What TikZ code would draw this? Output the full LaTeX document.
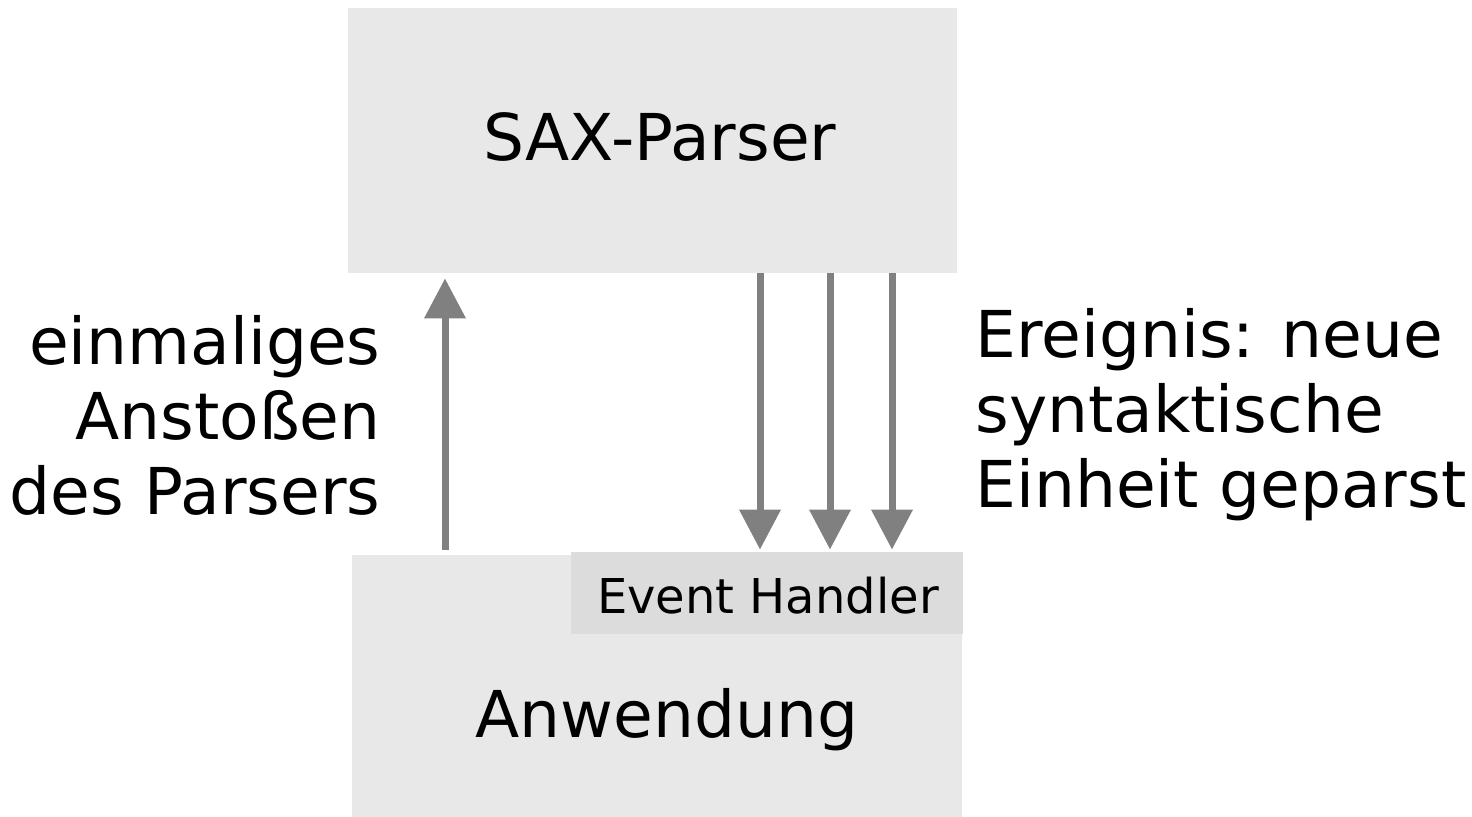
\documentclass[tikz,border=0pt]{standalone}
\usepackage{fontspec}
\setmainfont{DejaVu Sans}
\usepackage{tikz}
\usetikzlibrary{arrows.meta}
\usepackage{xcolor}
\definecolor{boxfill}{RGB}{232, 232, 232}
\definecolor{handlerfill}{RGB}{220, 220, 220}
\definecolor{flowgray}{RGB}{128, 128, 128}
\newcommand{\bigfont}{\fontsize{32.3}{37.5}\selectfont}
\newcommand{\smallfont}{\fontsize{24}{28}\selectfont}
\tikzset{
  % Kasten
  blockbox/.style   = {fill=boxfill, draw=none, inner sep=0pt, font=\bigfont},
  handlerbox/.style = {fill=handlerfill, draw=none, inner sep=0pt, font=\smallfont},
  % Pfeile
  flow/.style       = {-{Triangle[length=20pt,width=20pt]}, line width=3.5pt, draw=flowgray},
  % Beschriftungen
  lab/.style        = {font=\bigfont, inner sep=0pt},
}
\begin{document}
\begin{tikzpicture}[x=0.5pt, y=-0.5pt]
  \useasboundingbox (0,0) rectangle (1472,817);
  % SAX-Parser
  \node[blockbox, minimum width=304.5pt, minimum height=132.5pt] (parser)
    at (652.5,140.5) {};
  \node[lab] (parserLabel) at (660,137) {SAX-Parser};
  % Anwendung
  \node[blockbox, minimum width=305pt, minimum height=131pt] (app)
    at (657,686) {};
  \node[lab] (appLabel) at (667,720) {Anwendung};
  % Event Handler
  \node[handlerbox, minimum width=196pt, minimum height=41pt] (handler)
    at (767,593) {};
  \node[font=\smallfont, inner sep=0pt] (handlerLabel) at (768,596) {Event Handler};
  % Anstossen
  \coordinate (kick) at (445,0);
  \draw[flow, shorten <=2.5pt, shorten >=2.5pt] (app.north -| kick) -- (parser.south -| kick);
  % Ereignisse
  \foreach \ex [count=\i] in {760,830,892} {
    \coordinate (ev\i) at (\ex,0);
    \draw[flow, shorten >=1pt] (parser.south -| ev\i) -- (handler.north -| ev\i);
  }
  % Texte
  \node[lab, anchor=east, align=right] (kickLabel) at (381,415)
    {einmaliges\\Anstoßen\\des Parsers};
  \node[lab, anchor=west, align=left] (eventLabel) at (975,415)
    {Ereignis: neue\\syntaktische\\Einheit geparst};
\end{tikzpicture}
\end{document}
